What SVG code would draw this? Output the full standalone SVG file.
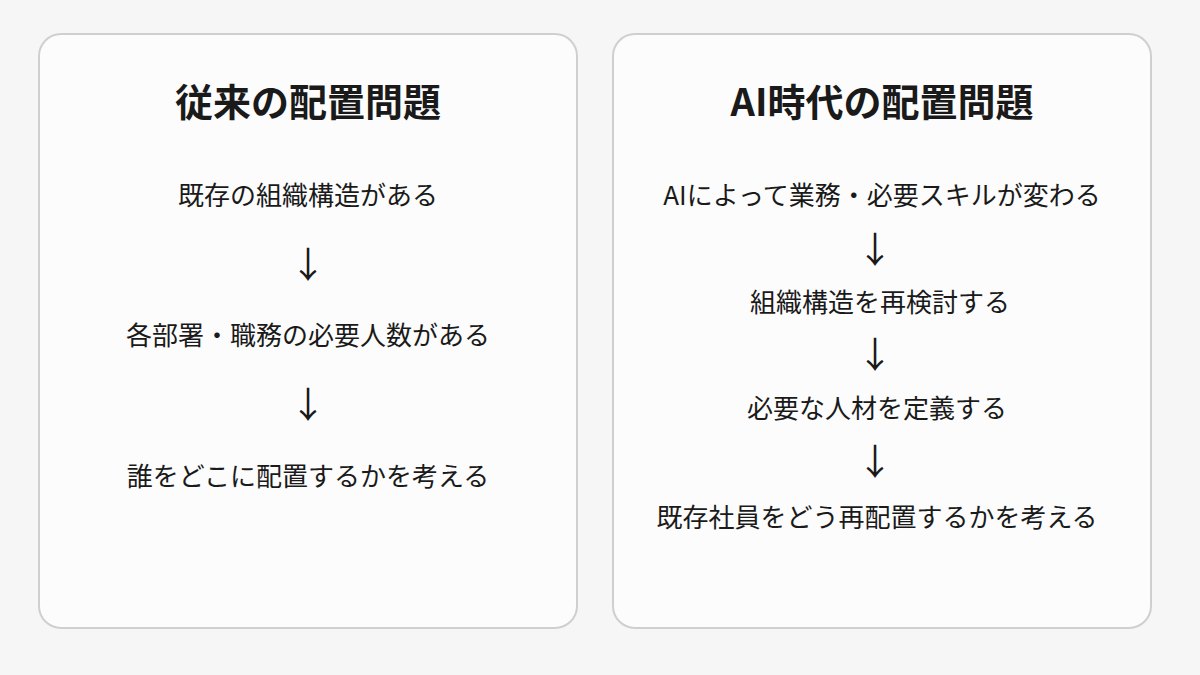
<svg xmlns="http://www.w3.org/2000/svg" width="1200" height="675" viewBox="0 0 1200 675">
<style>
.p{fill:#fcfcfc;stroke:#cfcfcf;stroke-width:2}
text{font-family:"Noto Sans CJK JP","Noto Sans",sans-serif;fill:#1a1a1a;text-anchor:middle}
.t{font-size:38px;font-weight:bold}
.s{font-size:26px}
.a{font-size:36px}
</style>
<rect width="1200" height="675" fill="#f6f6f6"/>
<g id="left">
<rect class="p" x="39" y="34" width="538" height="594" rx="22"/>
<text class="t" x="308" y="116">従来の配置問題</text>
<text class="s" x="308" y="205">既存の組織構造がある</text>
<text class="a" x="308" y="278">↓</text>
<text class="s" x="308" y="345">各部署・職務の必要人数がある</text>
<text class="a" x="308" y="418">↓</text>
<text class="s" x="308" y="486">誰をどこに配置するかを考える</text>
</g>
<g id="right">
<rect class="p" x="613" y="34" width="538" height="594" rx="22"/>
<text class="t" x="882" y="116">AI時代の配置問題</text>
<text class="s" x="882" y="205">AIによって業務・必要スキルが変わる</text>
<text class="a" x="875" y="263">↓</text>
<text class="s" x="880" y="312">組織構造を再検討する</text>
<text class="a" x="875" y="368">↓</text>
<text class="s" x="877" y="418">必要な人材を定義する</text>
<text class="a" x="875" y="475">↓</text>
<text class="s" x="877" y="527">既存社員をどう再配置するかを考える</text>
</g>
<g id="connectors"></g>
</svg>
